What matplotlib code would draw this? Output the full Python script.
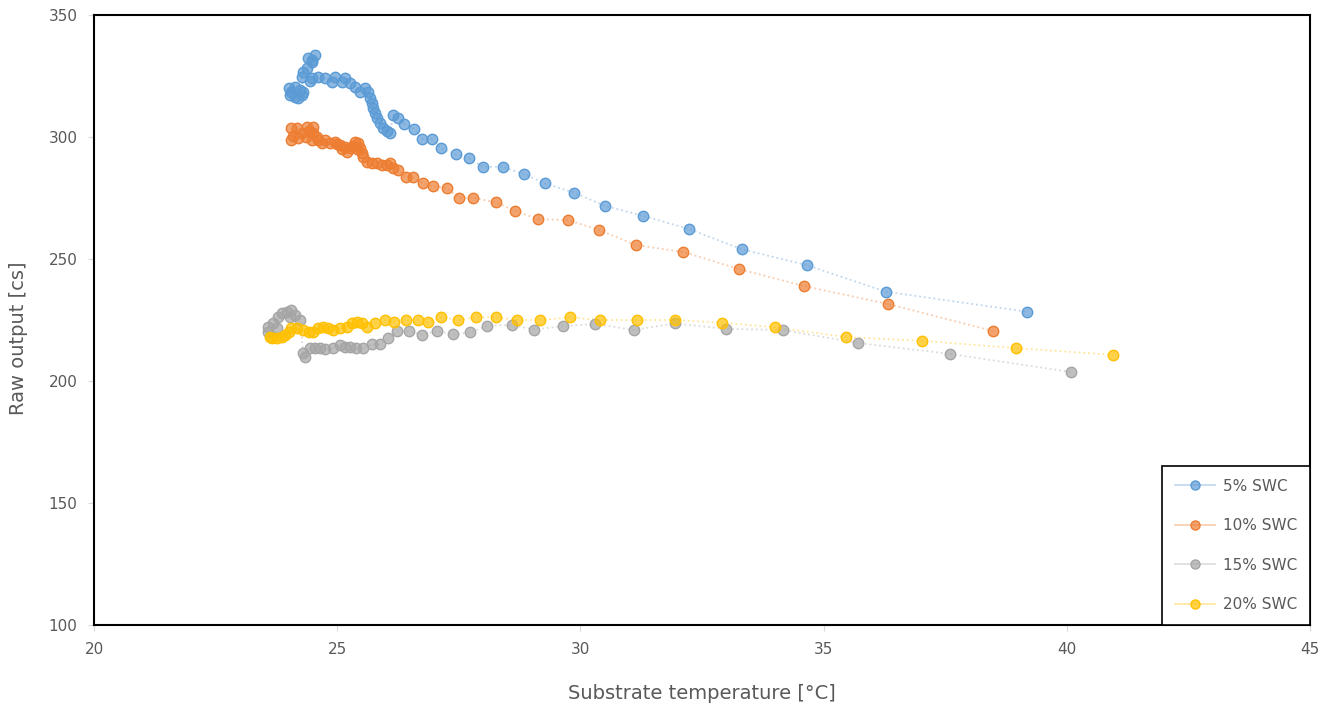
import matplotlib.pyplot as plt
from matplotlib.lines import Line2D
from matplotlib.colors import to_rgba

# 5% SWC
x5 = [24.00, 24.06, 24.13, 24.20, 24.27, 24.03, 24.13, 24.24, 24.30, 24.27, 24.30, 24.38,
      24.48, 24.40, 24.54, 24.48, 24.44, 24.48, 24.60, 24.75, 24.89, 24.95, 25.09, 25.16,
      25.26, 25.37, 25.47, 25.57, 25.64, 25.67, 25.71, 25.74, 25.78, 25.81, 25.88, 25.95,
      26.02, 26.09, 26.15, 26.26, 26.38, 26.58, 26.75, 26.94, 27.13, 27.44, 27.71, 28.00,
      28.40, 28.85, 29.27, 29.87, 30.50, 31.29, 32.23, 33.32, 34.65, 36.28, 39.18]
y5 = [320.0, 318.6, 316.5, 315.9, 317.2, 317.2, 320.6, 319.3, 318.6, 324.7, 326.6, 328.3,
      330.7, 332.4, 333.6, 331.5, 323.0, 324.0, 324.7, 324.0, 322.7, 324.7, 322.7, 324.0,
      322.0, 320.6, 318.6, 320.0, 318.6, 315.9, 313.8, 311.8, 309.7, 307.7, 305.6, 303.8,
      302.5, 301.5, 309.0, 307.9, 305.3, 303.3, 299.2, 299.2, 295.4, 292.9, 291.3, 287.8,
      287.8, 284.7, 281.0, 277.2, 271.8, 267.7, 262.3, 254.0, 247.5, 236.6, 228.4]

# 10% SWC
x10 = [24.06, 24.06, 24.10, 24.17, 24.20, 24.27, 24.35, 24.37, 24.42, 24.51, 24.51, 24.48,
       24.58, 24.61, 24.68, 24.75, 24.85, 24.95, 25.00, 25.06, 25.10, 25.16, 25.20, 25.26,
       25.33, 25.37, 25.43, 25.40, 25.47, 25.50, 25.54, 25.61, 25.71, 25.81, 25.92, 26.02,
       26.09, 26.15, 26.26, 26.41, 26.55, 26.77, 26.96, 27.25, 27.51, 27.80, 28.26, 28.66,
       29.13, 29.74, 30.39, 31.14, 32.11, 33.26, 34.60, 36.32, 38.48]
y10 = [303.6, 298.8, 300.5, 303.6, 299.5, 301.5, 300.0, 304.2, 302.5, 304.2, 301.5, 298.8,
       300.2, 298.8, 297.5, 298.8, 297.4, 298.1, 297.0, 296.7, 295.0, 296.0, 294.0, 295.4,
       296.5, 298.1, 297.4, 295.0, 295.4, 293.3, 291.9, 289.9, 289.2, 289.2, 288.5, 288.5,
       289.2, 287.2, 286.5, 283.5, 283.5, 281.0, 279.9, 279.0, 275.1, 275.1, 273.2, 269.8,
       266.3, 266.0, 261.9, 255.7, 252.9, 245.9, 238.9, 231.6, 220.5]

# 15% SWC
x15 = [23.58, 23.58, 23.76, 23.69, 23.79, 23.86, 23.96, 24.03, 24.06, 24.13, 24.24, 24.30,
       24.34, 24.44, 24.54, 24.65, 24.75, 24.92, 25.06, 25.16, 25.26, 25.39, 25.54, 25.71,
       25.88, 26.05, 26.22, 26.48, 26.74, 27.05, 27.39, 27.74, 28.09, 28.59, 29.05, 29.65,
       30.30, 31.10, 31.94, 32.99, 34.16, 35.71, 37.60, 40.09]
y15 = [222.3, 220.2, 221.6, 223.6, 226.4, 227.7, 228.4, 226.4, 229.1, 227.0, 225.0, 211.3,
       210.0, 213.4, 213.4, 213.4, 213.1, 213.6, 214.8, 214.1, 214.1, 213.4, 213.4, 215.0,
       215.0, 217.5, 220.5, 220.5, 218.9, 220.5, 219.1, 219.9, 222.7, 222.9, 221.1, 222.5,
       223.4, 220.9, 223.6, 221.4, 220.9, 215.6, 211.1, 203.7]

# 20% SWC
x20 = [23.62, 23.65, 23.76, 23.86, 23.93, 24.00, 24.06, 24.17, 24.30, 24.41, 24.51, 24.61,
       24.71, 24.82, 24.92, 25.06, 25.20, 25.30, 25.40, 25.50, 25.61, 25.78, 25.98, 26.17,
       26.41, 26.67, 26.87, 27.14, 27.49, 27.85, 28.26, 28.70, 29.17, 29.79, 30.40, 31.17,
       31.94, 32.92, 34.00, 35.47, 37.02, 38.95, 40.96]
y20 = [218.2, 217.5, 217.5, 218.2, 218.9, 220.2, 221.6, 221.6, 220.9, 220.2, 220.2, 221.6,
       222.3, 221.6, 220.9, 221.6, 222.3, 223.6, 224.3, 223.6, 222.3, 223.6, 225.0, 224.3,
       225.0, 225.0, 224.1, 226.1, 225.0, 226.1, 226.1, 225.0, 225.0, 226.1, 225.0, 225.0,
       225.0, 223.9, 222.0, 218.0, 216.5, 213.5, 210.7]

labels = ['5% SWC', '10% SWC', '15% SWC', '20% SWC']
colors = ['#5B9BD5', '#ED7D31', '#A5A5A5', '#FFC000']
series = [(x5, y5), (x10, y10), (x15, y15), (x20, y20)]

fig = plt.figure(figsize=(13.28, 7.08), dpi=100)
ax = fig.add_axes([0.0708, 0.1172, 0.9156, 0.8616])

handles = []
for (xs, ys), c, lab in zip(series, colors, labels):
    ax.plot(xs, ys, linestyle=':', linewidth=1.3, color=to_rgba(c, 0.4), zorder=2)
    ax.plot(xs, ys, linestyle='none', marker='o', markersize=7.5,
            markerfacecolor=to_rgba(c, 0.7), markeredgecolor=c, markeredgewidth=1.0, zorder=3)
    handles.append(Line2D([], [], color=to_rgba(c, 0.4), linewidth=1.2, marker='o', markersize=6.5,
                          markerfacecolor=to_rgba(c, 0.7), markeredgecolor=c, label=lab))

ax.set_xlim(20, 45)
ax.set_ylim(100, 350)
ax.set_xticks([20, 25, 30, 35, 40, 45])
ax.set_yticks([100, 150, 200, 250, 300, 350])

for s in ax.spines.values():
    s.set_color('black')
    s.set_linewidth(1.5)

ax.tick_params(axis='both', colors='#d9d9d9', labelcolor='#595959', labelsize=11, length=4, width=0.8)
ax.tick_params(axis='y', pad=8)
ax.tick_params(axis='x', pad=8)

ax.set_xlabel('Substrate temperature [°C]', fontsize=14, color='#595959')
ax.set_ylabel('Raw output [cs]', fontsize=14, color='#595959')
ax.xaxis.set_label_coords(0.5, -0.097)
ax.yaxis.set_label_coords(-0.054, 0.47)

leg = ax.legend(handles=handles, loc='lower right', borderaxespad=0, fancybox=False,
                edgecolor='black', fontsize=11, labelcolor='#595959', labelspacing=1.6,
                handlelength=2.6, handletextpad=0.5, borderpad=0.85, framealpha=1)
leg.get_frame().set_linewidth(1.2)

fig.savefig('out.png', dpi=100)
